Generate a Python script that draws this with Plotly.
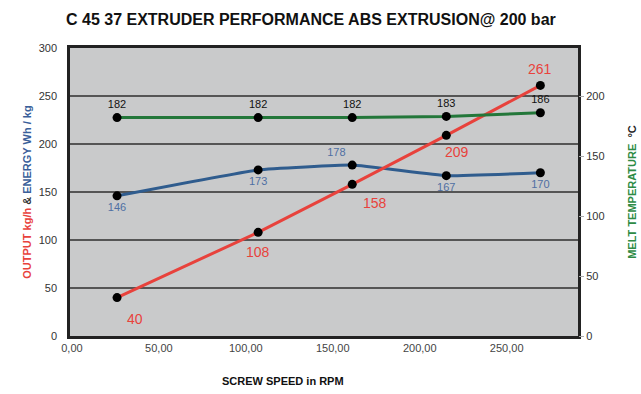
import plotly.graph_objects as go

speed = [25, 100, 150, 200, 250]
output_kgh = [40, 108, 158, 209, 261]
energy_whkg = [146, 173, 178, 167, 170]
melt_temp = [182, 182, 182, 183, 186]

x_tick_vals = [0, 50, 100, 150, 200, 250]
x_tick_text = ["0,00", "50,00", "100,00", "150,00", "200,00", "250,00"]
left_ticks = [0, 50, 100, 150, 200, 250, 300]
right_ticks = [0, 50, 100, 150, 200]

# label offsets (pixels) for the output labels
out_label_dx = [18, 0, 23, 11, 0]
out_label_dy = [-21, -20, -19, -17, 16]

RED = "#e8423c"
BLUE = "#2f5c8e"
BLUE_TXT = "#4f6fa3"
GREEN = "#23773a"
FONT = "Liberation Sans, Arial, sans-serif"

fig = go.Figure()

# invisible carrier so the tick-label axis is rendered
fig.add_trace(go.Scatter(
    x=x_tick_vals, y=[0] * len(x_tick_vals), xaxis="x2", mode="markers",
    marker=dict(size=0.1, opacity=0), hoverinfo="skip", showlegend=False))

fig.add_trace(go.Scatter(
    x=speed, y=melt_temp, yaxis="y2", mode="lines+markers+text",
    line=dict(color=GREEN, width=3),
    marker=dict(color="black", size=9),
    text=[str(v) for v in melt_temp], textposition="top center",
    textfont=dict(color="#111", size=11, family=FONT),
    cliponaxis=False, showlegend=False))

fig.add_trace(go.Scatter(
    x=speed, y=energy_whkg, mode="lines+markers+text",
    line=dict(color=BLUE, width=3, shape="spline", smoothing=0.3),
    marker=dict(color="black", size=9),
    text=[str(v) for v in energy_whkg],
    textposition=["bottom center", "bottom center", "top left", "bottom center", "bottom center"],
    textfont=dict(color=BLUE_TXT, size=11, family=FONT),
    cliponaxis=False, showlegend=False))

fig.add_trace(go.Scatter(
    x=speed, y=output_kgh, mode="lines+markers",
    line=dict(color=RED, width=3),
    marker=dict(color="black", size=9),
    cliponaxis=False, showlegend=False))

annotations = [dict(text="<b>SCREW SPEED in RPM</b>", xref="paper", yref="paper",
                    x=0.42, y=-0.155, xanchor="center", yanchor="middle",
                    showarrow=False, font=dict(size=11, color="#111"))]
for xv, yv, dx, dy in zip(speed, output_kgh, out_label_dx, out_label_dy):
    annotations.append(dict(x=xv, y=yv, xref="x", yref="y", text=str(yv),
                            showarrow=False, xshift=dx, yshift=dy,
                            xanchor="center", yanchor="middle",
                            font=dict(color=RED, size=14, family=FONT)))

fig.update_layout(
    width=641, height=394,
    margin=dict(l=70, r=63, t=48, b=58, autoexpand=False),
    paper_bgcolor="white",
    plot_bgcolor="#c9cacb",
    font=dict(family=FONT, color="#333"),
    title=dict(text="<b>C 45 37 EXTRUDER PERFORMANCE ABS EXTRUSION@ 200 bar</b>",
               x=0.485, xanchor="center", y=0.95, yanchor="middle",
               xref="container", yref="container",
               font=dict(size=16, color="#111", family=FONT), automargin=False),
    xaxis=dict(range=[0, 270], showgrid=False, zeroline=False,
               showticklabels=False, ticks="", automargin=False,
               showline=True, mirror=True, linecolor="#222", linewidth=2.5),
    xaxis2=dict(range=[-1.1, 291], overlaying="x", side="bottom", anchor="y",
                tickvals=x_tick_vals, ticktext=x_tick_text, showgrid=False,
                zeroline=False, showline=False, ticks="", automargin=False,
                ticklabelstandoff=4,
                tickfont=dict(size=11, color="#444")),
    yaxis=dict(range=[0, 300], tickvals=left_ticks, showgrid=True,
               gridcolor="#555", gridwidth=1.5, zeroline=False, automargin=False,
               showline=True, mirror=True, linecolor="#222", linewidth=2.5,
               tickfont=dict(size=11, color="#333"), ticks="", ticklabelstandoff=8,
               title=dict(text="<b><span style='color:#e8423c'>OUTPUT kg/h</span> & "
                               "<span style='color:#3a5f9a'>ENERGY Wh / kg</span></b>",
                          font=dict(size=11), standoff=5)),
    yaxis2=dict(range=[0, 240], overlaying="y", side="right", tickvals=right_ticks,
                showgrid=False, zeroline=False, ticks="outside", ticklen=5,
                automargin=False,
                tickcolor="#aaa", tickfont=dict(size=11, color="#333"),
                title=dict(text="<b><span style='color:#2e8b45'>MELT TEMPERATURE</span>  °C</b>",
                           font=dict(size=11, color="#222"), standoff=24)),
    annotations=annotations,
)

fig.write_html("out.html", config={"displayModeBar": False},
               post_script="document.body.style.margin='0';")
